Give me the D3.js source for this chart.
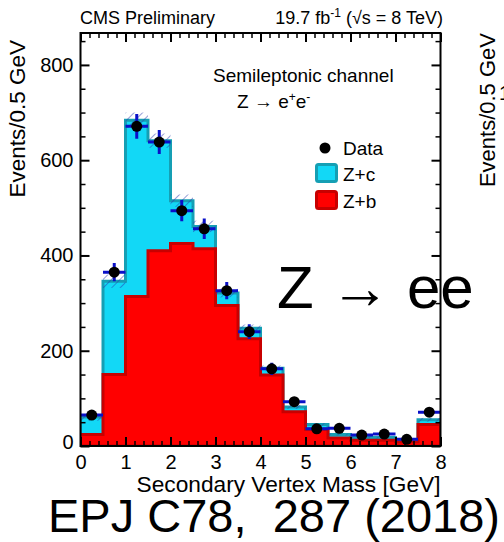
<!DOCTYPE html>
<html>
<head>
<meta charset="utf-8">
<script src="https://cdn.jsdelivr.net/npm/d3@7"></script>
<style>
  html, body { margin: 0; padding: 0; background: #fff; }
  svg { display: block; }
  text { font-family: "Liberation Sans", Arial, Helvetica, sans-serif; }
</style>
</head>
<body>
<svg id="chart" width="504" height="542"></svg>
<script>
// Secondary vertex mass, Z -> ee semileptonic channel (0.5 GeV bins)
const binLow   = [0, 0.5, 1, 1.5, 2, 2.5, 3, 3.5, 4, 4.5, 5, 5.5, 6, 6.5, 7, 7.5];
const binWidth = 0.5;
const zbValues = [24, 150, 314, 410, 425, 414, 295, 225, 149, 72, 35, 17, 12, 12, 9, 45];
const zcValues = [37, 196, 370, 231, 90, 47, 26, 22, 14, 10, 10, 7, 6, 6, 3, 10];
const mcUnc    = [8, 14, 16, 15, 13, 12, 9, 8, 6, 4, 3, 2, 2, 2, 2, 4];
const dataValues = [65, 365, 671, 638, 494, 456, 326, 240, 162, 93, 36, 37, 23, 25, 14, 71];

const xTickValues = [0, 1, 2, 3, 4, 5, 6, 7, 8];
const yTickValues = [0, 200, 400, 600, 800];

const svg = d3.select("#chart");

const frame = { left: 80.5, right: 440.5, top: 33, bottom: 446 };
const x = d3.scaleLinear().domain([0, 8]).range([frame.left, frame.right]);
const y = d3.scaleLinear().domain([0, 867]).range([frame.bottom, frame.top]);

const colors = {
  zc: "#12d8f6", zcLine: "#159fb4",
  zb: "#ff0000", zbLine: "#c80000",
  err: "#0a10c8", hatch: "#2a3cb0"
};

// hatch pattern for the MC uncertainty band
const defs = svg.append("defs");
const pat = defs.append("pattern")
  .attr("id", "hatch").attr("patternUnits", "userSpaceOnUse")
  .attr("width", 6).attr("height", 6)
  .attr("patternTransform", "rotate(45)");
pat.append("line").attr("x1", 0).attr("y1", 0).attr("x2", 0).attr("y2", 6)
  .attr("stroke", colors.hatch).attr("stroke-width", 1);

defs.append("clipPath").attr("id", "plotClip").append("rect")
  .attr("x", frame.left).attr("y", frame.top)
  .attr("width", frame.right - frame.left).attr("height", frame.bottom - frame.top);

const plot = svg.append("g").attr("clip-path", "url(#plotClip)");

// step points for a histogram
function stepPoints(vals) {
  const pts = binLow.map((lo, i) => ({ e: lo, v: vals[i] }));
  pts.push({ e: binLow[binLow.length - 1] + binWidth, v: vals[vals.length - 1] });
  return pts;
}
const area = d3.area()
  .x(d => x(d.e)).y0(y(0)).y1(d => y(d.v))
  .curve(d3.curveStepAfter);

const totals = zbValues.map((b, i) => b + zcValues[i]);

// stacked histogram: Z+c on top of Z+b
plot.append("path").datum(stepPoints(totals))
  .attr("d", area).attr("fill", colors.zc)
  .attr("stroke", colors.zcLine).attr("stroke-width", 3);
plot.append("path").datum(stepPoints(zbValues))
  .attr("d", area).attr("fill", colors.zb)
  .attr("stroke", colors.zbLine).attr("stroke-width", 3);

// MC uncertainty band
plot.selectAll("rect.unc").data(binLow).join("rect")
  .attr("class", "unc")
  .attr("x", d => x(d)).attr("width", d => x(d + binWidth) - x(d))
  .attr("y", (d, i) => y(totals[i] + mcUnc[i]))
  .attr("height", (d, i) => y(totals[i] - mcUnc[i]) - y(totals[i] + mcUnc[i]))
  .attr("fill", "url(#hatch)");

// data points with error bars
const dg = plot.append("g");
binLow.forEach((lo, i) => {
  const v = dataValues[i], e = Math.sqrt(v);
  const cx = x(lo + binWidth / 2);
  dg.append("line").attr("x1", x(lo)).attr("x2", x(lo + binWidth))
    .attr("y1", y(v)).attr("y2", y(v))
    .attr("stroke", colors.err).attr("stroke-width", 3);
  dg.append("line").attr("x1", cx).attr("x2", cx)
    .attr("y1", y(v - e)).attr("y2", y(v + e))
    .attr("stroke", colors.err).attr("stroke-width", 3);
  dg.append("circle").attr("cx", cx).attr("cy", y(v)).attr("r", 5.5).attr("fill", "#000");
});

// axes: ticks point into the frame on all four sides
const xMinor = d3.range(0, 8.001, 0.2).filter(v => Math.abs(v - Math.round(v)) > 1e-6);
const yMinor = d3.range(50, 867, 50).filter(v => v % 200 !== 0);

function styleAxis(g, w) {
  g.select(".domain").remove();
  g.selectAll(".tick line").attr("stroke", "#000").attr("stroke-width", w);
  g.selectAll("text").attr("fill", "#000").attr("font-size", 20)
    .attr("font-family", '"Liberation Sans", Arial, sans-serif');
}

svg.append("g").attr("transform", `translate(0,${frame.bottom})`)
  .call(d3.axisBottom(x).tickValues(xTickValues).tickSize(-9).tickPadding(9).tickFormat(d3.format("d")))
  .call(g => styleAxis(g, 2));
svg.append("g").attr("transform", `translate(0,${frame.bottom})`)
  .call(d3.axisBottom(x).tickValues(xMinor).tickSize(-5).tickFormat(""))
  .call(g => styleAxis(g, 1.5));
svg.append("g").attr("transform", `translate(0,${frame.top})`)
  .call(d3.axisTop(x).tickValues(xTickValues).tickSize(-9).tickFormat(""))
  .call(g => styleAxis(g, 2));
svg.append("g").attr("transform", `translate(0,${frame.top})`)
  .call(d3.axisTop(x).tickValues(xMinor).tickSize(-5).tickFormat(""))
  .call(g => styleAxis(g, 1.5));

const yAxisG = svg.append("g").attr("transform", `translate(${frame.left},0)`)
  .call(d3.axisLeft(y).tickValues(yTickValues).tickSize(-9).tickPadding(7).tickFormat(d3.format("d")))
  .call(g => styleAxis(g, 2));
yAxisG.selectAll(".tick").filter(d => d === 0).select("text").attr("dy", "0.1em");
svg.append("g").attr("transform", `translate(${frame.left},0)`)
  .call(d3.axisLeft(y).tickValues(yMinor).tickSize(-5).tickFormat(""))
  .call(g => styleAxis(g, 1.5));
svg.append("g").attr("transform", `translate(${frame.right},0)`)
  .call(d3.axisRight(y).tickValues(yTickValues).tickSize(-9).tickFormat(""))
  .call(g => styleAxis(g, 2));
svg.append("g").attr("transform", `translate(${frame.right},0)`)
  .call(d3.axisRight(y).tickValues(yMinor).tickSize(-5).tickFormat(""))
  .call(g => styleAxis(g, 1.5));

// frame
svg.append("rect")
  .attr("x", frame.left).attr("y", frame.top)
  .attr("width", frame.right - frame.left).attr("height", frame.bottom - frame.top)
  .attr("fill", "none").attr("stroke", "#000").attr("stroke-width", 2);

// axis titles
svg.append("text").attr("x", frame.right).attr("y", 492)
  .attr("text-anchor", "end").attr("font-size", 22.7)
  .text("Secondary Vertex Mass [GeV]");
svg.append("text").attr("transform", "translate(25,40) rotate(-90)")
  .attr("text-anchor", "end").attr("font-size", 22.5)
  .text("Events/0.5 GeV");

// header
svg.append("text").attr("x", 80).attr("y", 24).attr("font-size", 18).text("CMS Preliminary");
const lumi = svg.append("text").attr("x", 443).attr("y", 24)
  .attr("text-anchor", "end").attr("font-size", 18);
lumi.append("tspan").text("19.7 fb");
lumi.append("tspan").attr("dy", -7).attr("font-size", 12).text("-1");
lumi.append("tspan").attr("dy", 7).text(" (\u221As = 8 TeV)");

// channel label
svg.append("text").attr("x", 213).attr("y", 82).attr("font-size", 19).text("Semileptonic channel");
const ch = svg.append("text").attr("x", 237).attr("y", 108).attr("font-size", 19);
ch.append("tspan").text("Z \u2192 e");
ch.append("tspan").attr("dy", -7).attr("font-size", 12).text("+");
ch.append("tspan").attr("dy", 7).text("e");
ch.append("tspan").attr("dy", -7).attr("font-size", 12).text("-");

// legend
const legendItems = ["Data", "Z+c", "Z+b"];
svg.append("circle").attr("cx", 325).attr("cy", 148).attr("r", 5.5).attr("fill", "#000");
svg.append("text").attr("x", 343).attr("y", 155).attr("font-size", 19).text(legendItems[0]);
svg.append("rect").attr("x", 316.5).attr("y", 164.5).attr("width", 20).attr("height", 17)
  .attr("rx", 2).attr("fill", colors.zc).attr("stroke", colors.zcLine).attr("stroke-width", 3);
svg.append("text").attr("x", 343).attr("y", 181).attr("font-size", 19).text(legendItems[1]);
svg.append("rect").attr("x", 316.5).attr("y", 191.5).attr("width", 20).attr("height", 17)
  .attr("rx", 2).attr("fill", colors.zb).attr("stroke", colors.zbLine).attr("stroke-width", 3);
svg.append("text").attr("x", 343).attr("y", 208).attr("font-size", 19).text(legendItems[2]);

// neighbouring panel's axis label, partly in view
svg.append("text").attr("transform", "translate(495,33) rotate(-90)")
  .attr("text-anchor", "end").attr("font-size", 22).text("Events/0.5 GeV");
svg.append("text").attr("x", 499).attr("y", 100).attr("font-size", 20).text("1000");

// slide annotations
svg.append("text").attr("x", 277).attr("y", 308).attr("font-size", 60).text("Z \u2192 ee");
svg.append("text").attr("x", 48).attr("y", 532).attr("font-size", 47)
  .attr("xml:space", "preserve").style("white-space", "pre")
  .text("EPJ C78,  287 (2018)");
</script>
</body>
</html>
